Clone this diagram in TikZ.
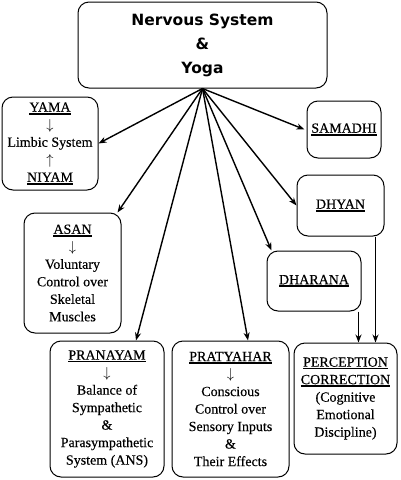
\documentclass[tikz,border=0pt]{standalone}
\usepackage{fontspec}
\setmainfont{Liberation Serif}[FakeBold=0.4]
\newfontfamily\titlefont{DejaVu Sans}
\usetikzlibrary{arrows.meta}
\newcommand{\ulab}[1]{\setbox0\hbox{#1}\rlap{\rule[-2.8pt]{\wd0}{1.6pt}}\box0}
\begin{document}
\begin{tikzpicture}[x=1pt,y=-1pt,
  yogabox/.style={draw, line width=1pt, rounded corners=11pt, align=center, inner sep=0pt,
    font=\fontsize{14}{17.5}\selectfont},
  link/.style={line width=1.4pt, -{Stealth[length=8pt,width=6pt]}}]
\useasboundingbox (0,0) rectangle (400,480);
\node [yogabox, minimum width=249pt, minimum height=86pt,
  font=\titlefont\bfseries\fontsize{15.5}{24}\selectfont] (nerv) at (202.5,45)
  {Nervous System\\\&\\Yoga};
\node [yogabox, minimum width=96pt, minimum height=93pt] (yama) at (50,143.5)
  {\ulab{YAMA}\\$\downarrow$\\Limbic System\\$\uparrow$\\\ulab{NIYAM}};
\node [yogabox, minimum width=97pt, minimum height=120pt] (asan) at (72.5,273)
  {\ulab{ASAN}\\$\downarrow$\\Voluntary\\Control over\\Skeletal\\Muscles};
\node [yogabox, minimum width=114pt, minimum height=136pt] (pranayam) at (107,409)
  {\ulab{PRANAYAM}\\$\downarrow$\\Balance of\\Sympathetic\\\&\\Parasympathetic\\System (ANS)};
\node [yogabox, minimum width=117pt, minimum height=136pt] (pratyahar) at (230.5,409)
  {\ulab{PRATYAHAR}\\$\downarrow$\\Conscious\\Control over\\Sensory Inputs\\\&\\Their Effects};
\node [yogabox, minimum width=103pt, minimum height=111pt] (percep) at (345.5,398.5)
  {\ulab{PERCEPTION}\\\ulab{CORRECTION}\\(Cognitive\\Emotional\\Discipline)};
\node [yogabox, minimum width=74pt, minimum height=57pt] (samadhi) at (344,129.5) {\ulab{SAMADHI}};
\node [yogabox, minimum width=87pt, minimum height=61pt] (dhyan) at (340.5,205.5) {\ulab{DHYAN}};
\node [yogabox, minimum width=94pt, minimum height=60pt] (dharana) at (314,281) {\ulab{DHARANA}};
% spokes from the top box
\draw [link] (nerv.south) -- (yama.east);
\draw [link] (nerv.south) -- ([xshift=-4pt]asan.north east);
\draw [link] (nerv.south) -- ([xshift=29pt]pranayam.north);
\draw [link] (nerv.south) -- ([xshift=17.5pt]pratyahar.north);
\draw [link] (nerv.south) -- ([xshift=-2pt]samadhi.west);
\draw [link] (nerv.south) -- (dhyan.west);
\draw [link] (nerv.south) -- ([xshift=5pt]dharana.north west);
% into perception correction
\draw [link] ([xshift=-3pt]dharana.south east) coordinate (d1) -- (d1 |- percep.north);
\draw [link] ([xshift=-9pt]dhyan.south east) coordinate (d2) -- (d2 |- percep.north);
\end{tikzpicture}
\end{document}
